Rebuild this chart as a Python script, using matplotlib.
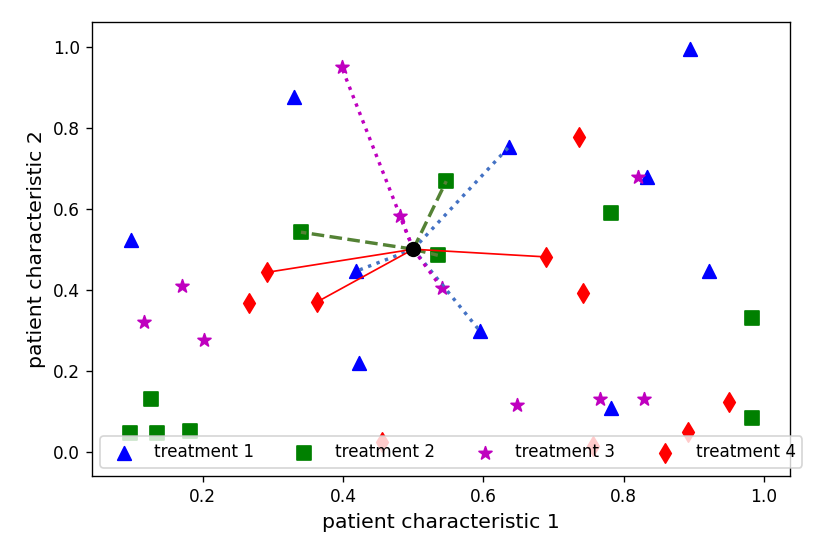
import matplotlib.pyplot as plt

# patient characteristics per treatment group
t1_x = [0.098, 0.330, 0.419, 0.423, 0.636, 0.894, 0.833, 0.921, 0.595, 0.782]
t1_y = [0.523, 0.875, 0.446, 0.219, 0.752, 0.994, 0.678, 0.446, 0.298, 0.107]

t2_x = [0.340, 0.547, 0.535, 0.782, 0.983, 0.983, 0.126, 0.096, 0.135, 0.182]
t2_y = [0.542, 0.668, 0.485, 0.589, 0.330, 0.083, 0.130, 0.045, 0.045, 0.050]

t3_x = [0.398, 0.481, 0.541, 0.170, 0.116, 0.202, 0.820, 0.648, 0.766, 0.829]
t3_y = [0.949, 0.582, 0.403, 0.408, 0.320, 0.276, 0.678, 0.115, 0.130, 0.130]

t4_x = [0.292, 0.266, 0.363, 0.689, 0.736, 0.742, 0.950, 0.891, 0.455, 0.756]
t4_y = [0.443, 0.367, 0.370, 0.481, 0.777, 0.391, 0.123, 0.048, 0.024, 0.014]

# new patient and indices of its 3 nearest neighbours in each group
new_x, new_y = 0.5, 0.5
nn1 = [2, 4, 8]
nn2 = [0, 1, 2]
nn3 = [0, 1, 2]
nn4 = [0, 2, 3]

fig = plt.figure(figsize=(816 / 122.4, 555 / 122.4), dpi=122.4)
ax = fig.add_axes([0.1127, 0.1423, 0.8554, 0.8181])

ax.scatter(t1_x, t1_y, c='b', marker='^', s=64, label='treatment 1')
ax.scatter(t2_x, t2_y, c='g', marker='s', s=64, label='treatment 2')
ax.scatter(t3_x, t3_y, c='m', marker='*', s=64, label='treatment 3')
ax.scatter(t4_x, t4_y, c='r', marker='d', s=64, label='treatment 4')

#lines to nearest neighbours
for i in nn1:
    ax.plot([new_x, t1_x[i]], [new_y, t1_y[i]], ':', color='#4472C4', lw=2)
for i in nn2:
    ax.plot([new_x, t2_x[i]], [new_y, t2_y[i]], '--', color='#548235', lw=2)
for i in nn3:
    ax.plot([new_x, t3_x[i]], [new_y, t3_y[i]], ':', color='m', lw=2)
for i in nn4:
    ax.plot([new_x, t4_x[i]], [new_y, t4_y[i]], '-', color='r', lw=1)

ax.scatter([new_x], [new_y], c='k', s=64, zorder=5)

ax.set_xlim(0.042, 1.037)
ax.set_ylim(-0.060, 1.061)
ax.set_xticks([0.2, 0.4, 0.6, 0.8, 1.0])
ax.set_yticks([0.0, 0.2, 0.4, 0.6, 0.8, 1.0])
ax.set_xlabel('patient characteristic 1', fontsize=12)
ax.set_ylabel('patient characteristic 2', fontsize=12)
ax.legend(loc='lower left', ncol=4, fontsize=9.87)

plt.savefig('out.png', dpi=122.4)
